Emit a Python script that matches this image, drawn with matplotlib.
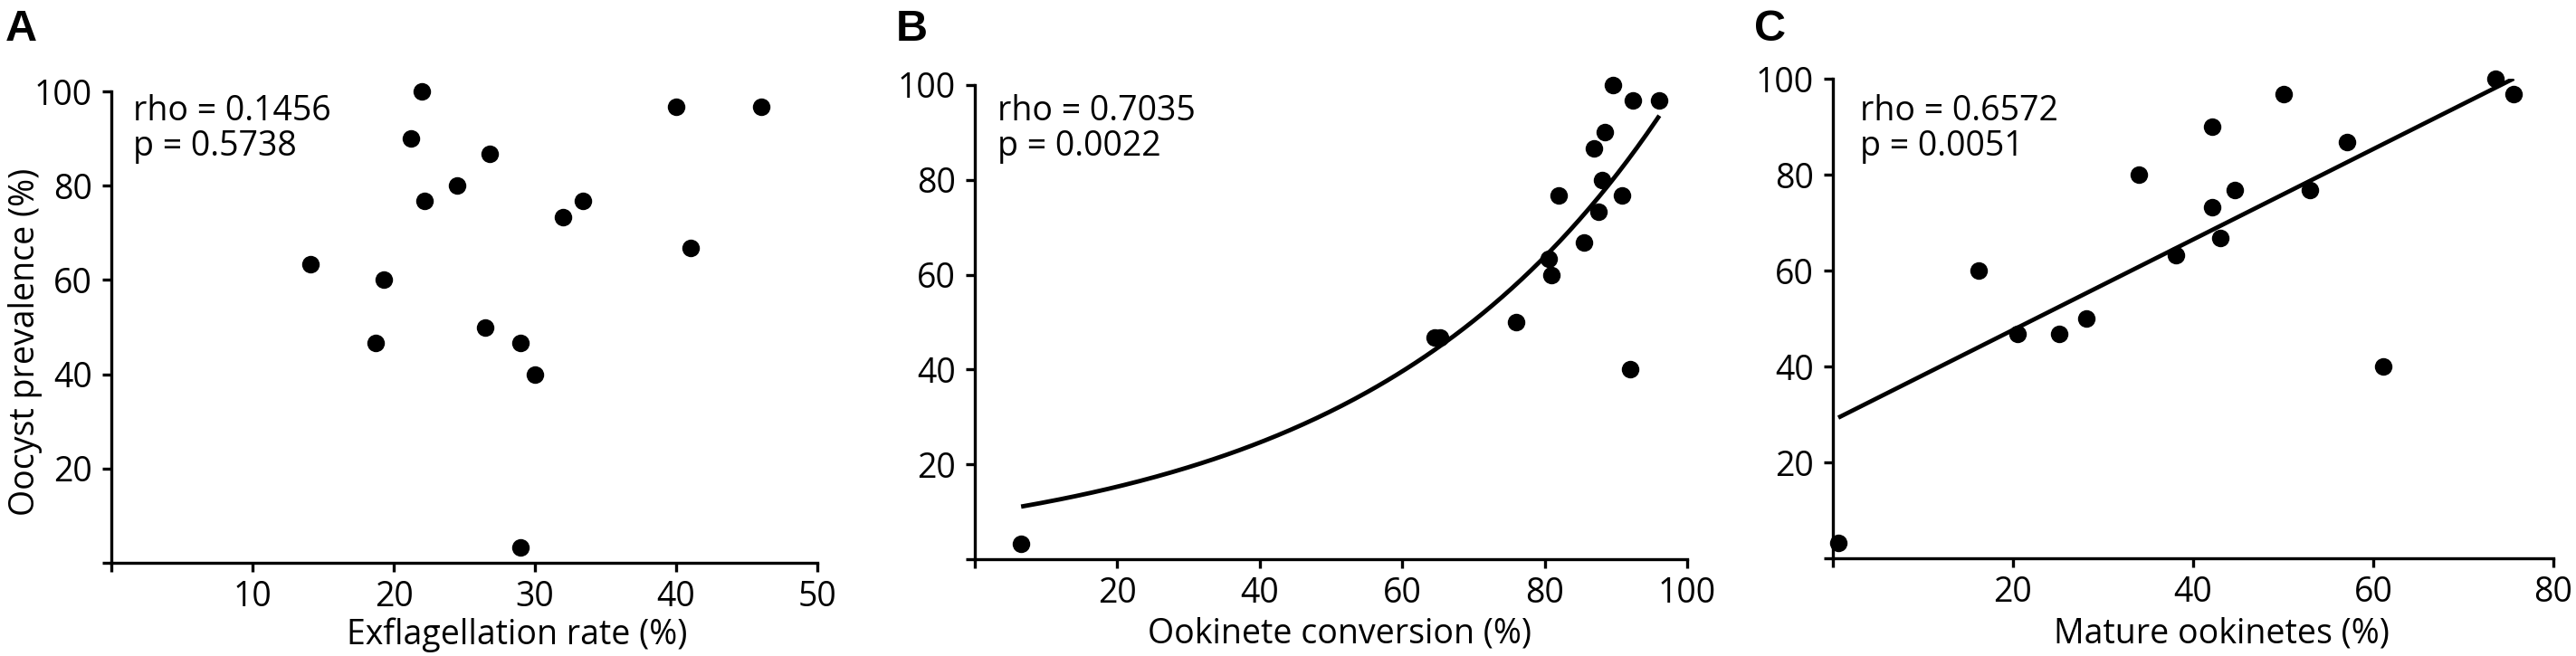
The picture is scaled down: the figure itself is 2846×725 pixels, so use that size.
import numpy as np
import matplotlib
matplotlib.use("Agg")
import matplotlib.pyplot as plt

plt.rcParams['font.family'] = ['Open Sans', 'DejaVu Sans']

# shared y values (oocyst prevalence, %)
prevalence = [100, 96.7, 96.7, 90, 86.7, 80, 76.7, 76.7, 73.3, 66.7,
              63.3, 60, 50, 46.7, 46.7, 40, 3.3]

# panel A: exflagellation rate (%), same order as prevalence
exfl = [22.0, 40.0, 46.0, 21.2, 26.8, 24.5, 22.2, 33.4, 32.0, 41.0,
        14.1, 19.3, 26.5, 18.7, 29.0, 30.0, 29.0]

# panel B: ookinete conversion (%)
ook_conv = [89.6, 92.4, 96.1, 88.5, 86.9, 88.0, 82.0, 90.9, 87.5, 85.5,
            80.5, 81.0, 76.0, 64.5, 65.3, 92.0, 6.5]
# exponential curve shown in B, y = a * exp(b * x)
curve_b = (9.5, 0.0238)

# panel C: mature ookinetes (%)
mature = [73.6, 50.1, 75.6, 42.1, 57.1, 34.0, 44.6, 53.0, 42.1, 43.0,
          38.1, 16.2, 28.1, 20.5, 25.1, 61.1, 0.6]

stats = [("rho = 0.1456", "p = 0.5738"),
         ("rho = 0.7035", "p = 0.0022"),
         ("rho = 0.6572", "p = 0.0051")]
letters = ["A", "B", "C"]
xlabels = ["Exflagellation rate (%)", "Ookinete conversion (%)", "Mature ookinetes (%)"]
xticks = [[0, 10, 20, 30, 40, 50], [0, 20, 40, 60, 80, 100], [0, 20, 40, 60, 80]]
yticks = [0, 20, 40, 60, 80, 100]

W, H = 2846, 725
fig = plt.figure(figsize=(W / 100, H / 100), dpi=100)

# axes boxes in pixels: left, right, bottom(y=0), top(y=100)
boxes = [(123, 903, 622, 101), (1077, 1864, 618, 94), (2025, 2821, 617, 87)]
letter_x = [6, 990, 1938]
stat_x = [147, 1102, 2055]
label_x = [0.574, 0.512, 0.540]

axes = []
for i, (l, r, b, t) in enumerate(boxes):
    ax = fig.add_axes([l / W, 1 - b / H, (r - l) / W, (b - t) / H])
    axes.append(ax)
    ax.set_xlim(0, xticks[i][-1])
    ax.set_ylim(0, 100)
    for s in ['top', 'right']:
        ax.spines[s].set_visible(False)
    for s in ['left', 'bottom']:
        ax.spines[s].set_linewidth(2.4)
    ax.tick_params(direction='out', length=7.2, width=2.4, labelsize=27,
                   colors='black')
    ax.tick_params(axis='y', pad=8)
    ax.tick_params(axis='x', pad=6.5)
    ax.set_xticks(xticks[i])
    ax.set_xticklabels([''] + [str(v) for v in xticks[i][1:]])
    ax.set_yticks(yticks)
    ax.set_yticklabels([''] + [str(v) for v in yticks[1:]])
    ax.set_xlabel(xlabels[i], fontsize=27)
    top_px = 682
    ax.xaxis.set_label_coords(label_x[i], (b - top_px) / (b - t))

    fig.text(letter_x[i] / W, 1 - 45 / H, letters[i], fontsize=35,
             fontweight='bold', family='Liberation Sans', va='baseline')
    fig.text(stat_x[i] / W, 1 - 133 / H, stats[i][0], fontsize=27, va='baseline')
    fig.text(stat_x[i] / W, 1 - 172 / H, stats[i][1], fontsize=27, va='baseline')

axA, axB, axC = axes
axA.set_ylabel("Oocyst prevalence (%)", fontsize=27)
axA.yaxis.set_label_coords((47 - 123) / 775, 0.468)

for ax, xs in zip(axes, [exfl, ook_conv, mature]):
    ax.plot(xs, prevalence, 'o', ms=14, mew=0, color='black',
            clip_on=False, zorder=5)

# B: exponential curve over the data range
xb = np.linspace(min(ook_conv), max(ook_conv), 200)
axB.plot(xb, curve_b[0] * np.exp(curve_b[1] * xb), color='black', lw=3.5,
         solid_capstyle='butt', zorder=4)

# C: least-squares line over the data range
slope, intercept = np.polyfit(mature, prevalence, 1)
xc = np.array([min(mature), max(mature)])
axC.plot(xc, intercept + slope * xc, color='black', lw=3.4,
         solid_capstyle='butt', zorder=4)

fig.savefig("out.png", dpi=100)
